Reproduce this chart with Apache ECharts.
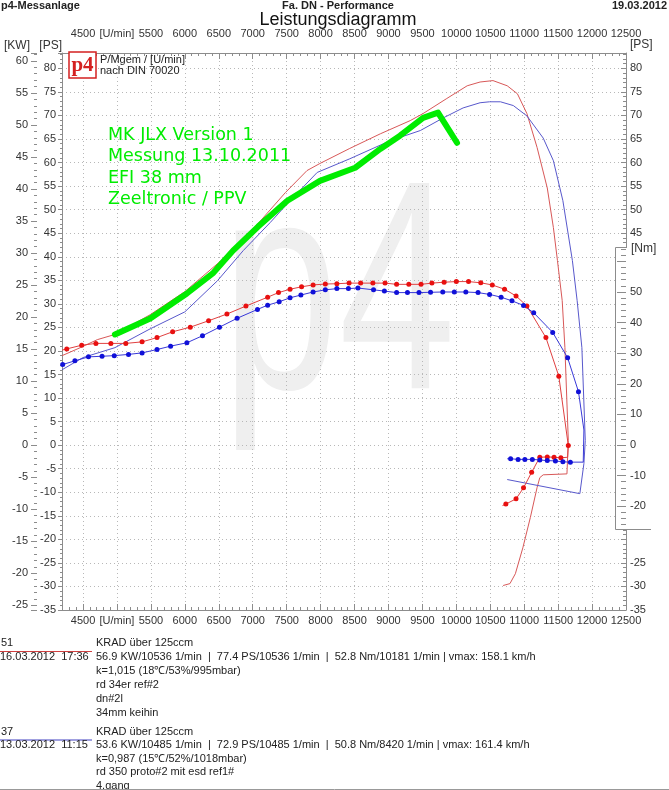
<!DOCTYPE html>
<html>
<head>
<meta charset="utf-8">
<title>Leistungsdiagramm</title>
<script src="https://cdn.jsdelivr.net/npm/echarts@6/dist/echarts.min.js"></script>
<style>
html, body { margin: 0; padding: 0; background: #fff; }
#chart { width: 669px; height: 790px; }
</style>
</head>
<body>
<div id="chart"></div>
<script>
// Messung 51 (rot) - Leistung [PS]
var redPowerRpm = [4190, 4460, 4710, 4970, 5490, 6000, 6520, 7040, 7480, 7800, 7990, 8430, 8880, 9320, 9510, 9860, 10160, 10350, 10540, 10750, 10900, 11040, 11190, 11340, 11430, 11490, 11560, 11600, 11650, 11630, 11280, 11230, 11190, 11090, 10980, 10870, 10790, 10690];
var redPowerPs = [19.0, 20.7, 22.4, 23.5, 27.7, 32.6, 39.0, 46.4, 53.6, 58.3, 59.8, 63.0, 66.1, 68.9, 70.4, 73.6, 76.3, 77.1, 77.4, 76.3, 74.6, 70.4, 63.2, 54.6, 46.2, 39.2, 30.7, 20.7, 1.0, -6.1, -6.3, -6.9, -9.0, -15.4, -21.8, -27.3, -29.4, -29.8];

// Messung 37 (blau) - Leistung [PS]
var bluePowerRpm = [4190, 4500, 4970, 5490, 6000, 6480, 6860, 7260, 7550, 7950, 8430, 9020, 9470, 9810, 10100, 10350, 10490, 10650, 10840, 11040, 11280, 11430, 11570, 11710, 11780, 11850, 11900, 11880, 11820, 10750];
var bluePowerPs = [16.0, 18.6, 20.7, 24.7, 28.3, 34.9, 41.3, 47.3, 51.9, 57.9, 60.8, 64.6, 66.8, 69.5, 71.6, 72.7, 72.9, 72.9, 72.1, 69.9, 65.2, 60.4, 51.9, 39.2, 30.7, 20.7, 1.0, -3.9, -10.3, -7.3];

// MK JLX Version 1 (gruen) - Leistung [PS]
var greenRpm = [4970, 5490, 6030, 6420, 6710, 7080, 7510, 7990, 8510, 8880, 9170, 9510, 9730, 10010];
var greenPs = [23.5, 26.9, 32.2, 36.6, 41.3, 46.4, 51.9, 56.1, 58.9, 62.9, 65.7, 69.5, 70.6, 64.2];

// Drehmoment [Nm]
var redTorqueRpm = [4190, 4260, 4480, 4690, 4910, 5130, 5370, 5590, 5820, 6080, 6350, 6620, 6900, 7220, 7380, 7550, 7720, 7890, 8070, 8240, 8420, 8590, 8770, 8950, 9120, 9300, 9480, 9640, 9820, 10000, 10180, 10360, 10530, 10710, 10880, 11040, 11320, 11510, 11650, 11640, 11540, 11440, 11340, 11230, 11110, 10990, 10880, 10730, 10680];
var redTorqueNm = [31.0, 31.4, 32.6, 33.2, 33.2, 33.2, 33.7, 35.1, 37.0, 38.5, 40.6, 42.8, 45.4, 48.3, 49.8, 50.9, 51.7, 52.3, 52.6, 52.7, 52.9, 52.9, 52.9, 52.9, 52.5, 52.5, 52.5, 52.9, 53.2, 53.4, 53.4, 53.0, 52.3, 50.9, 48.7, 45.4, 35.1, 22.5, -0.2, -4.0, -4.2, -4.0, -3.9, -4.0, -8.9, -14.0, -17.6, -19.3, -19.8];
var redTorqueBare = [0, 39, 48]; // Punkte ohne Marker

var blueTorqueRpm = [4200, 4380, 4580, 4780, 4960, 5170, 5370, 5590, 5790, 6030, 6260, 6510, 6770, 7070, 7220, 7390, 7550, 7710, 7890, 8070, 8240, 8410, 8550, 8780, 8940, 9120, 9280, 9450, 9620, 9800, 9970, 10140, 10320, 10490, 10660, 10820, 10990, 11140, 11420, 11640, 11800, 11880, 11870, 11680, 11570, 11460, 11340, 11230, 11120, 11010, 10910, 10800, 10750];
var blueTorqueNm = [26.3, 27.5, 28.8, 29.0, 29.2, 29.6, 30.1, 31.2, 32.3, 33.4, 35.7, 38.5, 41.4, 44.3, 45.7, 46.8, 48.1, 49.0, 50.0, 50.7, 51.1, 51.1, 51.3, 50.7, 50.3, 49.8, 49.8, 49.8, 49.9, 50.0, 50.0, 50.0, 49.8, 49.2, 48.3, 47.1, 45.6, 43.2, 36.8, 28.5, 17.4, 4.9, -5.6, -5.6, -5.5, -5.2, -5.1, -4.9, -4.7, -4.7, -4.7, -4.5, -4.5];
var blueTorqueBare = [41, 42, 52];

// Achsen
var rpmRange = [4190, 12500];
var psRange = [-35, 83.26];
var nmRange = [-27.45, 64.7];
var PS_TO_KW = 0.7355;

// Texte
var headerTexts = ['p4-Messanlage', 'Fa. DN - Performance', '19.03.2012'];
var chartTitle = 'Leistungsdiagramm';
var noteLines = ['MK JLX Version 1', 'Messung 13.10.2011', 'EFI 38 mm', 'Zeeltronic / PPV'];
var normLines = ['P/Mgem / [U/min]', 'nach DIN 70020'];
var run1 = {
    id: '51', cls: 'KRAD über 125ccm', date: '16.03.2012  17:36',
    lines: ['56.9 KW/10536 1/min  |  77.4 PS/10536 1/min  |  52.8 Nm/10181 1/min | vmax: 158.1 km/h',
        'k=1,015 (18℃/53%/995mbar)', 'rd 34er ref#2', 'dn#2l', '34mm keihin']
};
var run2 = {
    id: '37', cls: 'KRAD über 125ccm', date: '13.03.2012  11:15',
    lines: ['53.6 KW/10485 1/min  |  72.9 PS/10485 1/min  |  50.8 Nm/8420 1/min | vmax: 161.4 km/h',
        'k=0,987 (15℃/52%/1018mbar)', 'rd 350 proto#2 mit esd ref1#', '4.gang']
};

var FONT = '"Liberation Sans", Arial, sans-serif';
var AXIS_COLOR = '#8c8c8c';
var LABEL_COLOR = '#333';
var RED = '#e81010', RED_THIN = '#d85858', BLUE = '#1010d8', BLUE_THIN = '#5858cc', GREEN = '#00ec00';

/**
 * @desc x/y Paare bauen
 */
function pairs(xs, ys, bare) {
    var out = [];
    for (var i = 0; i < xs.length; i++) {
        var item = { value: [xs[i], ys[i]] };
        if (bare && bare.indexOf(i) >= 0) {
            item.symbolSize = 0;
        }
        out.push(item);
    }
    return out;
}

function txt(x, y, s, opt) {
    opt = opt || {};
    return {
        type: 'text', x: x, y: y, z: opt.z || 20, silent: true,
        style: {
            text: s,
            fontSize: opt.size || 11,
            fontWeight: opt.weight || 'normal',
            fontFamily: opt.family || FONT,
            fill: opt.color || '#222',
            align: opt.align || 'left',
            verticalAlign: 'middle'
        }
    };
}

function line(points, color, z) {
    return {
        type: 'polyline', z: z || 20, silent: true,
        shape: { points: points },
        style: { stroke: color, fill: null, lineWidth: 1 }
    };
}

function runBlock(run, y0, step, color) {
    var els = [];
    els.push(txt(1, y0, run.id));
    els.push(line([[0, y0 + 8.5], [92, y0 + 8.5]], color));
    els.push(txt(96, y0, run.cls));
    els.push(txt(0, y0 + step, run.date));
    for (var i = 0; i < run.lines.length; i++) {
        els.push(txt(96, y0 + step * (i + 1), run.lines[i]));
    }
    return els;
}

var myChart = echarts.init(document.getElementById('chart'), null, { renderer: 'canvas' });

var tickStyle = { color: AXIS_COLOR, width: 1 };
var gridLine = { show: true, lineStyle: { color: '#b8b8b8', width: 1, type: [1, 3] } };
var labelBase = { color: LABEL_COLOR, fontSize: 11, fontFamily: FONT };

function rpmLabel(v) {
    return Math.round(v) === 5000 ? '[U/min]' : String(Math.round(v));
}

var graphics = [];
// Wasserzeichen
graphics.push({
    type: 'text', x: 222, y: 455, scaleY: 1.42, z: -10, silent: true,
    style: { text: 'p4', fontSize: 210, fontFamily: FONT, fill: '#efefef', verticalAlign: 'bottom' }
});
// Kopfzeile
graphics.push(txt(1, 6, headerTexts[0], { weight: 'bold' }));
graphics.push(txt(338, 6, headerTexts[1], { weight: 'bold', align: 'center' }));
graphics.push(txt(667, 6, headerTexts[2], { weight: 'bold', align: 'right' }));
graphics.push(txt(338, 20, chartTitle, { size: 18, align: 'center', color: '#111' }));
// Logo
graphics.push({
    type: 'rect', z: 20, silent: true,
    shape: { x: 69, y: 52, width: 27, height: 26 },
    style: { fill: '#fff', stroke: '#d42020', lineWidth: 1.5 }
});
graphics.push(txt(82.5, 66, 'p4', { size: 21, weight: 'bold', family: '"Liberation Serif", serif', color: '#d42020', align: 'center' }));
graphics.push(txt(100, 60, normLines[0]));
graphics.push(txt(100, 71, normLines[1]));
// gruene Notiz
for (var n = 0; n < noteLines.length; n++) {
    graphics.push(txt(108, 135 + n * 21.5, noteLines[n], { size: 17.5, family: '"DejaVu Sans", sans-serif', color: GREEN }));
}
// Achsnamen rechts
graphics.push(txt(630, 45, '[PS]', { size: 12, color: LABEL_COLOR }));
// Nm-Kasten
graphics.push({
    type: 'rect', z: 5, silent: true,
    shape: { x: 615, y: 247, width: 36, height: 282 },
    style: { fill: '#fff', stroke: null }
});
graphics.push(line([[627, 247.5], [615.5, 247.5], [615.5, 529.5], [651, 529.5]], AXIS_COLOR, 6));
graphics.push(txt(631, 249, '[Nm]', { size: 12, color: LABEL_COLOR }));
// Legende unten
graphics = graphics.concat(runBlock(run1, 643, 14, '#d04040'));
graphics = graphics.concat(runBlock(run2, 731.5, 13.5, '#4040c0'));
graphics.push(line([[0, 789.5], [669, 789.5]], '#999'));

option = {
    backgroundColor: '#fff',
    animation: false,
    grid: [
        { left: 62, top: 53, width: 564, height: 557 },
        { left: 62, top: 247, width: 564, height: 282 }
    ],
    xAxis: [{
        type: 'value', gridIndex: 0, position: 'bottom',
        min: rpmRange[0], max: rpmRange[1], splitNumber: 16,
        axisLine: { onZero: false, lineStyle: tickStyle },
        axisTick: { inside: true, length: 6, lineStyle: tickStyle },
        minorTick: { show: true, splitNumber: 5, length: 3, lineStyle: tickStyle },
        axisLabel: Object.assign({ margin: 5, showMinLabel: false, formatter: rpmLabel }, labelBase),
        splitLine: gridLine
    }, {
        type: 'value', gridIndex: 0, position: 'top',
        min: rpmRange[0], max: rpmRange[1], splitNumber: 16,
        axisLine: { onZero: false, lineStyle: tickStyle },
        axisTick: { inside: true, length: 6, lineStyle: tickStyle },
        minorTick: { show: true, splitNumber: 5, length: 3, lineStyle: tickStyle },
        axisLabel: Object.assign({ margin: 14, showMinLabel: false, formatter: rpmLabel }, labelBase),
        splitLine: { show: false }
    }, {
        type: 'value', gridIndex: 1, show: false,
        min: rpmRange[0], max: rpmRange[1]
    }],
    yAxis: [{
        // PS links
        type: 'value', gridIndex: 0, position: 'left',
        min: psRange[0], max: psRange[1], interval: 5,
        name: '[PS]', nameLocation: 'end', nameGap: 7,
        nameTextStyle: Object.assign({ align: 'right', verticalAlign: 'middle' }, labelBase, { fontSize: 12 }),
        axisLine: { show: true, onZero: false, lineStyle: tickStyle },
        axisTick: { inside: false, length: 4, lineStyle: tickStyle },
        minorTick: { show: true, splitNumber: 5, length: 2, lineStyle: tickStyle },
        axisLabel: Object.assign({ margin: 6, showMaxLabel: false }, labelBase),
        splitLine: gridLine
    }, {
        // KW links
        type: 'value', gridIndex: 0, position: 'left', offset: 25,
        min: psRange[0] * PS_TO_KW, max: psRange[1] * PS_TO_KW, splitNumber: 17,
        name: '[KW]', nameLocation: 'end', nameGap: 7,
        nameTextStyle: Object.assign({ align: 'right', verticalAlign: 'middle', padding: [0, 7, 0, 0] }, labelBase, { fontSize: 12 }),
        axisLine: { show: false, onZero: false },
        axisTick: { show: true, inside: false, length: 6, lineStyle: tickStyle },
        minorTick: { show: true, splitNumber: 5, length: 3, lineStyle: tickStyle },
        axisLabel: Object.assign({ margin: 9, showMinLabel: false, showMaxLabel: false }, labelBase),
        splitLine: { show: false }
    }, {
        // PS rechts
        type: 'value', gridIndex: 0, position: 'right',
        min: psRange[0], max: psRange[1], interval: 5,
        axisLine: { show: true, onZero: false, lineStyle: tickStyle },
        axisTick: { inside: true, length: 5, lineStyle: tickStyle },
        minorTick: { show: true, splitNumber: 5, length: 3, lineStyle: tickStyle },
        axisLabel: Object.assign({
            margin: 4, showMaxLabel: false,
            formatter: function (v) { return (v > -22 && v < 42) ? '' : String(v); }
        }, labelBase),
        splitLine: { show: false }
    }, {
        // Nm rechts im Kasten
        type: 'value', gridIndex: 1, position: 'right', z: 10,
        min: nmRange[0], max: nmRange[1], splitNumber: 9,
        axisLine: { show: false, onZero: false },
        axisTick: { inside: true, length: 9, lineStyle: tickStyle },
        minorTick: { show: true, splitNumber: 5, length: 5, lineStyle: tickStyle },
        axisLabel: Object.assign({
            margin: 4, showMinLabel: false, showMaxLabel: false,
            formatter: function (v) { return v > 55 ? '' : String(v); }
        }, labelBase),
        splitLine: { show: false }
    }],
    graphic: { elements: graphics },
    series: [{
        type: 'line', name: '51 Leistung', xAxisIndex: 0, yAxisIndex: 0,
        data: pairs(redPowerRpm, redPowerPs), symbol: 'none', z: 3,
        lineStyle: { color: RED_THIN, width: 1 }
    }, {
        type: 'line', name: '37 Leistung', xAxisIndex: 0, yAxisIndex: 0,
        data: pairs(bluePowerRpm, bluePowerPs), symbol: 'none', z: 3,
        lineStyle: { color: BLUE_THIN, width: 1 }
    }, {
        type: 'line', name: 'MK JLX', xAxisIndex: 0, yAxisIndex: 0,
        data: pairs(greenRpm, greenPs), symbol: 'none', z: 4,
        lineStyle: { color: GREEN, width: 6, cap: 'round', join: 'round' }
    }, {
        type: 'line', name: '51 Drehmoment', xAxisIndex: 2, yAxisIndex: 3, clip: false,
        data: pairs(redTorqueRpm, redTorqueNm, redTorqueBare),
        symbol: 'circle', symbolSize: 5, showAllSymbol: true, z: 3,
        itemStyle: { color: RED },
        lineStyle: { color: '#e04040', width: 1 }
    }, {
        type: 'line', name: '37 Drehmoment', xAxisIndex: 2, yAxisIndex: 3, clip: false,
        data: pairs(blueTorqueRpm, blueTorqueNm, blueTorqueBare),
        symbol: 'circle', symbolSize: 5, showAllSymbol: true, z: 3,
        itemStyle: { color: BLUE },
        lineStyle: { color: '#3838d8', width: 1 }
    }]
};

myChart.setOption(option);
</script>
</body>
</html>
